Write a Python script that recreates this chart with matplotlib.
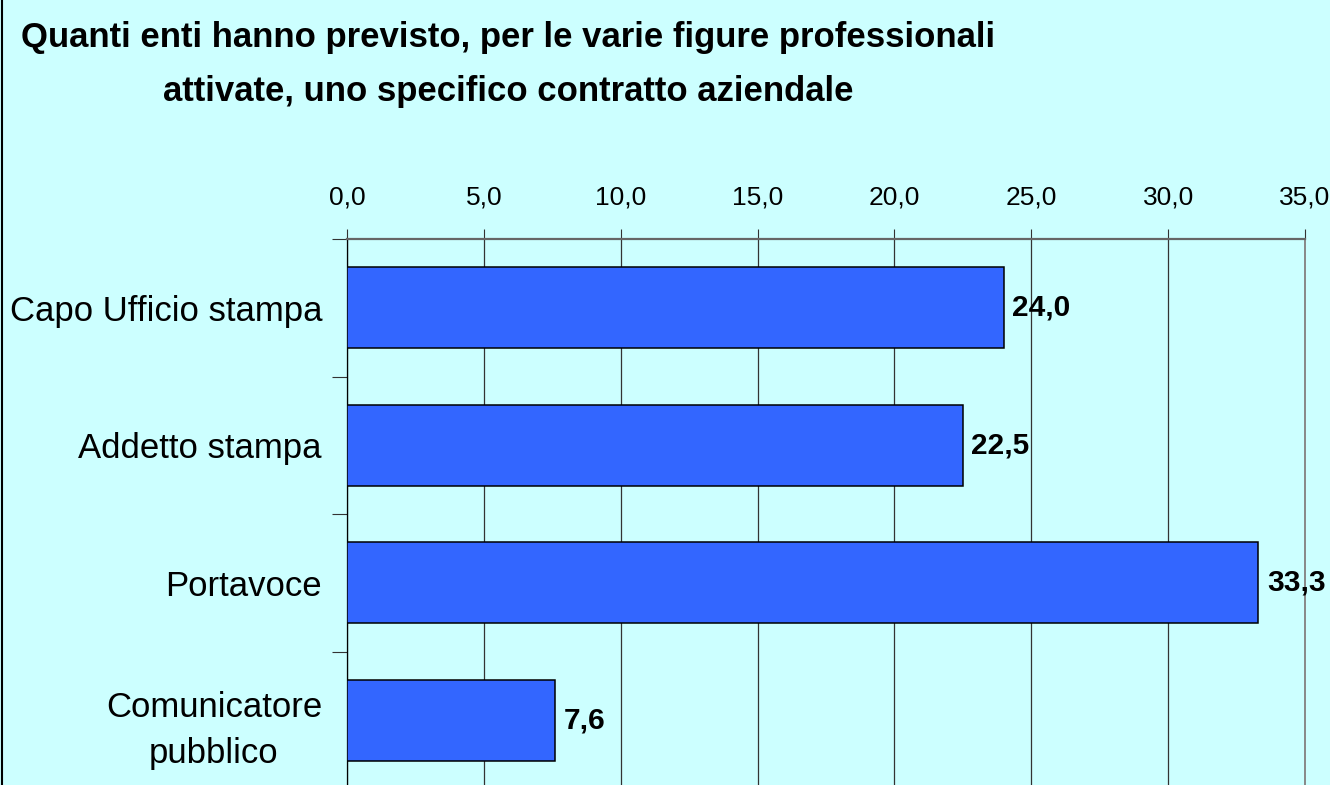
import matplotlib.pyplot as plt
from matplotlib.lines import Line2D

categories = ["Capo Ufficio stampa", "Addetto stampa", "Portavoce", "Comunicatore\npubblico"]
values = [24.0, 22.5, 33.3, 7.6]
xticks = [0, 5, 10, 15, 20, 25, 30, 35]

title1 = "Quanti enti hanno previsto, per le varie figure professionali"
title2 = "attivate, uno specifico contratto aziendale"

bg = "#CCFFFF"
bar_color = "#3366FF"

plt.rcParams['font.family'] = ['Liberation Sans', 'DejaVu Sans']


def fmt(v):
    return f"{v:.1f}".replace(".", ",")


fig = plt.figure(figsize=(13.3, 7.85), dpi=100, facecolor=bg)
ax = fig.add_axes([347 / 1330, -4 / 785, 958 / 1330, 550 / 785])
ax.set_facecolor(bg)

ypos = list(range(len(categories)))
ax.barh(ypos, values, height=0.59, color=bar_color, edgecolor="black", linewidth=1.1, zorder=3)

for y, v in zip(ypos, values):
    ax.annotate(fmt(v), (v, y), xytext=(6, 0), textcoords="offset points",
                ha="left", va="center", fontsize=21.5, fontweight="bold", zorder=4)

ax.set_xlim(0, 35)
ax.set_ylim(3.5, -0.5)

# x axis on top
ax.xaxis.tick_top()
ax.set_xticks(xticks)
ax.set_xticklabels([fmt(t) for t in xticks], fontsize=19)
ax.tick_params(axis="x", which="major", length=7.2, width=0.8, color="#333333", pad=14)

# category labels, separator ticks
ax.set_yticks(ypos)
ax.set_yticklabels(categories, fontsize=25)
for lab in ax.get_yticklabels():
    lab.set_multialignment("center")
    lab.set_linespacing(1.5)
ax.tick_params(axis="y", which="major", length=0, pad=18)
ax.set_yticks([-0.5, 0.5, 1.5, 2.5], minor=True)
ax.tick_params(axis="y", which="minor", length=10.8, width=0.8, color="#333333")

ax.grid(axis="x", color="#333333", linewidth=0.9)
ax.set_axisbelow(True)

ax.spines["top"].set_color("#666666")
ax.spines["top"].set_linewidth(1.6)
ax.spines["right"].set_color("#888888")
ax.spines["right"].set_linewidth(1.4)
ax.spines["left"].set_color("black")
ax.spines["left"].set_linewidth(0.9)
ax.spines["bottom"].set_visible(False)

fig.text(508 / 1330, 1 - 47 / 785, title1, ha="center", va="baseline",
         fontsize=25, fontweight="bold")
fig.text(508 / 1330, 1 - 101 / 785, title2, ha="center", va="baseline",
         fontsize=25, fontweight="bold")

# left border of the chart frame
fig.add_artist(Line2D([1.5 / 1330, 1.5 / 1330], [0, 1], transform=fig.transFigure,
                      color="black", linewidth=1.5))

fig.savefig("out.png", dpi=100, facecolor=bg)
